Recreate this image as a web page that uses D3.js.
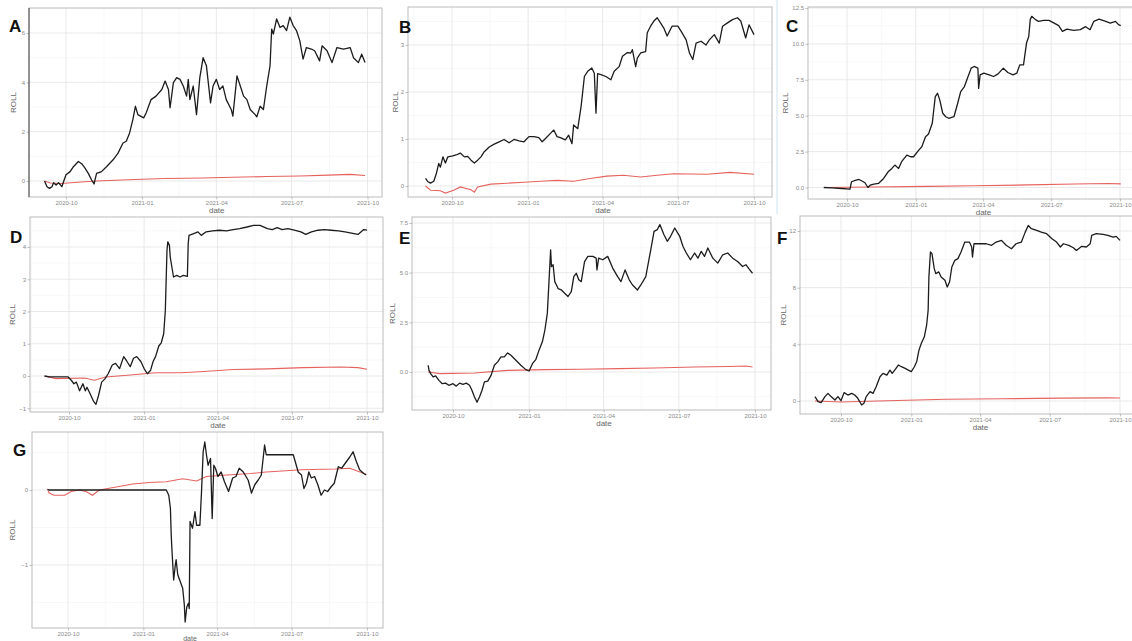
<!DOCTYPE html>
<html>
<head>
<meta charset="utf-8">
<script src="https://cdn.jsdelivr.net/npm/d3@7"></script>
<style>
body { margin: 0; background: #fff; }
svg { display: block; font-family: "Liberation Sans", Arial, sans-serif; }
.axis .domain { display: none; }
.axis .tick text { fill: #8a8a8a; font-size: 6px; }
.axis .tick line { stroke: #9a9a9a; stroke-width: 0.6; }
.axisTitle { fill: #666; font-size: 8px; }
.letter { font-weight: bold; font-size: 17px; fill: #111; }
</style>
</head>
<body>
<div id="vis"></div>
<script>
var parseDate = d3.timeParse('%Y-%m-%d');

var xTickDates  = ['2020-10-01', '2021-01-01', '2021-04-01', '2021-07-01', '2021-10-01'];
var xTickLabels = ['2020-10', '2021-01', '2021-04', '2021-07', '2021-10'];

var panelLetters = ['A', 'B', 'C', 'D', 'E', 'F', 'G'];
var yTitle = 'ROLL';
var xTitle = 'date';

// y tick values of each panel
var aTicks = [0, 2, 4, 6];
var bTicks = [0, 1, 2, 3];
var cTicks = [0, 2.5, 5, 7.5, 10, 12.5];
var dTicks = [-1, 0, 1, 2, 3, 4];
var eTicks = [0, 2.5, 5, 7.5];
var fTicks = [0, 4, 8, 12];
var gTicks = [-1, 0];

// black line (ROLL of the strategy)
var aRoll = [
  ['2020-09-05',0.00],['2020-09-08',-0.23],['2020-09-11',-0.30],['2020-09-14',-0.23],['2020-09-16',-0.07],
  ['2020-09-19',-0.16],['2020-09-22',-0.07],['2020-09-26',-0.23],['2020-09-28',-0.03],['2020-10-01',0.25],
  ['2020-10-06',0.38],['2020-10-10',0.58],['2020-10-16',0.79],['2020-10-20',0.70],['2020-10-24',0.52],
  ['2020-10-28',0.31],['2020-11-01',0.04],['2020-11-04',-0.12],['2020-11-07',0.31],['2020-11-13',0.38],
  ['2020-11-19',0.58],['2020-11-27',0.86],['2020-12-03',1.13],['2020-12-09',1.54],['2020-12-13',1.61],
  ['2020-12-17',1.95],['2020-12-21',2.50],['2020-12-24',3.03],['2020-12-27',2.69],['2021-01-03',2.56],
  ['2021-01-06',2.76],['2021-01-12',3.30],['2021-01-18',3.44],['2021-01-25',3.71],['2021-01-29',4.05],
  ['2021-02-02',3.71],['2021-02-04',2.97],['2021-02-08',3.99],['2021-02-12',4.19],['2021-02-16',4.12],
  ['2021-02-20',3.85],['2021-02-24',3.44],['2021-02-26',4.12],['2021-02-28',3.30],['2021-03-04',3.85],
  ['2021-03-08',2.69],['2021-03-12',4.19],['2021-03-16',5.00],['2021-03-20',4.67],['2021-03-25',3.17],
  ['2021-03-28',3.85],['2021-04-01',4.12],['2021-04-05',3.71],['2021-04-09',3.85],['2021-04-13',3.30],
  ['2021-04-19',2.90],['2021-04-21',2.63],['2021-04-26',4.26],['2021-04-30',3.85],['2021-05-04',3.44],
  ['2021-05-08',3.30],['2021-05-12',2.90],['2021-05-18',2.69],['2021-05-20',2.60],['2021-05-24',3.03],
  ['2021-05-28',2.90],['2021-06-01',3.85],['2021-06-05',4.67],['2021-06-07',6.16],['2021-06-09',5.96],
  ['2021-06-13',6.57],['2021-06-17',6.23],['2021-06-21',6.30],['2021-06-25',6.10],['2021-06-29',6.64],
  ['2021-07-03',6.30],['2021-07-07',6.10],['2021-07-11',5.69],['2021-07-15',4.94],['2021-07-19',5.41],
  ['2021-07-25',5.35],['2021-07-29',5.28],['2021-08-04',4.87],['2021-08-07',5.48],['2021-08-13',5.28],
  ['2021-08-19',4.80],['2021-08-25',5.41],['2021-09-02',5.35],['2021-09-10',5.41],['2021-09-14',5.00],
  ['2021-09-20',4.80],['2021-09-24',5.14],['2021-09-28',4.80]
];
var bRoll = [
  ['2020-08-30',0.16],['2020-09-02',0.09],['2020-09-05',0.06],['2020-09-09',0.10],['2020-09-12',0.26],
  ['2020-09-15',0.48],['2020-09-17',0.40],['2020-09-20',0.62],['2020-09-23',0.49],['2020-09-26',0.62],
  ['2020-10-02',0.64],['2020-10-06',0.66],['2020-10-11',0.70],['2020-10-16',0.62],['2020-10-20',0.63],
  ['2020-10-24',0.55],['2020-10-28',0.49],['2020-11-01',0.55],['2020-11-05',0.62],['2020-11-09',0.73],
  ['2020-11-15',0.83],['2020-11-21',0.89],['2020-11-27',0.94],['2020-12-03',0.99],['2020-12-09',0.92],
  ['2020-12-15',0.99],['2020-12-21',0.96],['2020-12-27',0.94],['2021-01-02',1.05],['2021-01-08',1.05],
  ['2021-01-14',1.03],['2021-01-18',0.94],['2021-01-22',1.01],['2021-01-28',1.12],['2021-02-01',1.19],
  ['2021-02-05',1.05],['2021-02-09',1.03],['2021-02-15',0.98],['2021-02-19',1.08],['2021-02-23',0.90],
  ['2021-02-25',1.30],['2021-03-02',1.22],['2021-03-06',1.69],['2021-03-10',2.33],['2021-03-14',2.44],
  ['2021-03-19',2.51],['2021-03-22',2.40],['2021-03-24',1.55],['2021-03-26',2.39],['2021-03-30',2.37],
  ['2021-04-05',2.33],['2021-04-11',2.26],['2021-04-15',2.44],['2021-04-21',2.54],['2021-04-25',2.76],
  ['2021-05-01',2.84],['2021-05-05',2.83],['2021-05-07',2.90],['2021-05-11',2.54],['2021-05-13',2.72],
  ['2021-05-17',2.83],['2021-05-23',2.86],['2021-05-25',3.26],['2021-05-29',3.40],['2021-06-02',3.51],
  ['2021-06-06',3.58],['2021-06-10',3.47],['2021-06-14',3.36],['2021-06-18',3.19],['2021-06-24',3.40],
  ['2021-07-01',3.40],['2021-07-05',3.29],['2021-07-11',3.11],['2021-07-15',2.83],['2021-07-19',2.69],
  ['2021-07-23',3.04],['2021-07-29',3.08],['2021-08-04',3.00],['2021-08-08',3.11],['2021-08-14',3.22],
  ['2021-08-20',3.04],['2021-08-24',3.40],['2021-08-30',3.47],['2021-09-05',3.54],['2021-09-11',3.58],
  ['2021-09-15',3.51],['2021-09-21',3.15],['2021-09-25',3.43],['2021-10-01',3.22]
];
var cRoll = [
  ['2020-08-31',0.00],['2020-09-11',-0.02],['2020-09-24',-0.07],['2020-10-01',-0.10],['2020-10-05',-0.12],
  ['2020-10-07',0.40],['2020-10-12',0.50],['2020-10-17',0.56],['2020-10-21',0.45],['2020-10-25',0.33],
  ['2020-10-29',0.00],['2020-11-01',0.16],['2020-11-06',0.23],['2020-11-12',0.28],['2020-11-19',0.63],
  ['2020-11-25',1.09],['2020-11-30',1.33],['2020-12-04',1.56],['2020-12-09',1.33],['2020-12-13',1.80],
  ['2020-12-20',2.26],['2020-12-25',2.14],['2020-12-29',2.14],['2021-01-05',2.60],['2021-01-09',2.84],
  ['2021-01-14',3.54],['2021-01-18',3.72],['2021-01-23',4.47],['2021-01-25',5.40],['2021-01-27',6.33],
  ['2021-01-30',6.56],['2021-02-02',6.10],['2021-02-06',5.17],['2021-02-10',4.93],['2021-02-14',4.82],
  ['2021-02-21',4.93],['2021-02-26',5.87],['2021-03-02',6.68],['2021-03-07',7.03],['2021-03-11',7.61],
  ['2021-03-16',8.31],['2021-03-20',8.43],['2021-03-25',8.31],['2021-03-26',6.90],['2021-03-28',7.84],
  ['2021-04-02',7.96],['2021-04-09',7.84],['2021-04-15',7.73],['2021-04-21',7.91],['2021-04-28',8.31],
  ['2021-05-04',8.01],['2021-05-11',7.84],['2021-05-16',7.96],['2021-05-20',8.54],['2021-05-25',8.54],
  ['2021-05-29',10.06],['2021-06-01',10.52],['2021-06-03',11.69],['2021-06-05',11.92],['2021-06-10',11.69],
  ['2021-06-14',11.57],['2021-06-21',11.64],['2021-06-28',11.64],['2021-07-05',11.45],['2021-07-11',11.27],
  ['2021-07-16',10.87],['2021-07-22',11.03],['2021-07-31',10.94],['2021-08-09',10.99],['2021-08-16',11.20],
  ['2021-08-22',10.99],['2021-08-27',11.57],['2021-09-03',11.73],['2021-09-12',11.57],['2021-09-18',11.45],
  ['2021-09-25',11.57],['2021-09-29',11.34],['2021-10-02',11.27]
];
var dRoll = [
  ['2020-09-01',0.00],['2020-09-07',-0.03],['2020-09-16',-0.03],['2020-09-24',-0.03],['2020-09-30',-0.03],
  ['2020-10-04',-0.14],['2020-10-07',-0.24],['2020-10-10',-0.19],['2020-10-14',-0.46],['2020-10-18',-0.24],
  ['2020-10-21',-0.46],['2020-10-23',-0.35],['2020-10-27',-0.56],['2020-10-31',-0.78],['2020-11-03',-0.88],
  ['2020-11-06',-0.62],['2020-11-10',-0.19],['2020-11-14',-0.09],['2020-11-18',0.07],['2020-11-23',0.34],
  ['2020-11-27',0.39],['2020-12-02',0.23],['2020-12-07',0.60],['2020-12-11',0.45],['2020-12-15',0.29],
  ['2020-12-19',0.55],['2020-12-23',0.60],['2020-12-28',0.45],['2021-01-01',0.23],['2021-01-05',0.07],
  ['2021-01-09',0.18],['2021-01-12',0.45],['2021-01-15',0.60],['2021-01-19',0.93],['2021-01-22',1.03],
  ['2021-01-25',1.31],['2021-01-27',2.04],['2021-01-29',3.89],['2021-01-30',4.16],['2021-02-01',4.05],
  ['2021-02-02',3.69],['2021-02-04',3.38],['2021-02-06',3.07],['2021-02-10',3.12],['2021-02-14',3.07],
  ['2021-02-18',3.12],['2021-02-23',3.09],['2021-02-24',4.10],['2021-02-25',4.36],['2021-03-02',4.41],
  ['2021-03-08',4.47],['2021-03-12',4.36],['2021-03-18',4.47],['2021-03-26',4.50],['2021-04-03',4.52],
  ['2021-04-12',4.50],['2021-04-20',4.54],['2021-04-28',4.57],['2021-05-07',4.62],['2021-05-15',4.67],
  ['2021-05-23',4.67],['2021-06-01',4.57],['2021-06-07',4.54],['2021-06-13',4.60],['2021-06-19',4.54],
  ['2021-06-26',4.57],['2021-07-04',4.52],['2021-07-12',4.47],['2021-07-18',4.39],['2021-07-25',4.47],
  ['2021-08-02',4.52],['2021-08-10',4.54],['2021-08-18',4.52],['2021-08-27',4.50],['2021-09-04',4.47],
  ['2021-09-12',4.43],['2021-09-20',4.39],['2021-09-27',4.54],['2021-10-01',4.52]
];
var eRoll = [
  ['2020-09-01',0.34],['2020-09-02',0.08],['2020-09-04',-0.08],['2020-09-07',-0.25],['2020-09-10',-0.20],
  ['2020-09-14',-0.42],['2020-09-18',-0.59],['2020-09-22',-0.56],['2020-09-26',-0.67],['2020-10-01',-0.59],
  ['2020-10-05',-0.71],['2020-10-09',-0.56],['2020-10-13',-0.62],['2020-10-17',-0.56],['2020-10-21',-0.67],
  ['2020-10-24',-0.93],['2020-10-27',-1.26],['2020-10-30',-1.52],['2020-11-02',-1.26],['2020-11-05',-0.93],
  ['2020-11-08',-0.50],['2020-11-12',-0.46],['2020-11-16',-0.17],['2020-11-20',0.34],['2020-11-24',0.51],
  ['2020-11-28',0.76],['2020-12-02',0.76],['2020-12-06',0.96],['2020-12-10',0.84],['2020-12-16',0.59],
  ['2020-12-22',0.34],['2020-12-28',0.12],['2021-01-01',0.05],['2021-01-05',0.42],['2021-01-09',0.62],
  ['2021-01-13',1.10],['2021-01-17',1.52],['2021-01-20',2.10],['2021-01-23',2.95],['2021-01-25',4.55],
  ['2021-01-27',6.15],['2021-01-28',5.30],['2021-01-30',5.40],['2021-02-01',4.55],['2021-02-03',4.38],
  ['2021-02-05',4.20],['2021-02-09',4.13],['2021-02-13',3.96],['2021-02-17',3.80],['2021-02-21',4.05],
  ['2021-02-24',4.80],['2021-02-27',4.97],['2021-03-02',4.64],['2021-03-05',4.55],['2021-03-09',5.56],
  ['2021-03-13',5.82],['2021-03-19',5.82],['2021-03-23',5.73],['2021-03-24',5.14],['2021-03-26',5.73],
  ['2021-03-31',5.65],['2021-04-06',5.82],['2021-04-12',5.23],['2021-04-18',4.80],['2021-04-22',4.55],
  ['2021-04-27',5.14],['2021-05-02',4.64],['2021-05-06',4.38],['2021-05-12',4.13],['2021-05-16',4.38],
  ['2021-05-22',4.80],['2021-05-28',6.15],['2021-06-01',7.08],['2021-06-05',7.17],['2021-06-08',7.42],
  ['2021-06-13',6.91],['2021-06-17',6.58],['2021-06-21',6.83],['2021-06-26',7.25],['2021-07-02',6.83],
  ['2021-07-06',6.32],['2021-07-10',5.99],['2021-07-15',5.65],['2021-07-20',5.99],['2021-07-24',5.73],
  ['2021-07-28',6.07],['2021-08-01',5.82],['2021-08-05',6.24],['2021-08-11',5.73],['2021-08-17',5.48],
  ['2021-08-23',5.90],['2021-08-29',5.99],['2021-09-04',5.73],['2021-09-10',5.56],['2021-09-16',5.31],
  ['2021-09-20',5.40],['2021-09-24',5.18],['2021-09-28',4.97]
];
var fRoll = [
  ['2020-08-28',0.31],['2020-09-01',-0.05],['2020-09-05',-0.12],['2020-09-10',0.31],['2020-09-14',0.54],
  ['2020-09-18',0.31],['2020-09-23',0.07],['2020-09-27',0.31],['2020-10-01',0.02],['2020-10-05',0.59],
  ['2020-10-10',0.42],['2020-10-15',0.54],['2020-10-19',0.42],['2020-10-23',0.19],['2020-10-28',-0.28],
  ['2020-10-31',-0.16],['2020-11-03',0.31],['2020-11-08',0.66],['2020-11-12',0.54],['2020-11-16',1.01],
  ['2020-11-21',1.71],['2020-11-25',1.95],['2020-11-30',1.83],['2020-12-04',2.18],['2020-12-07',1.95],
  ['2020-12-11',2.23],['2020-12-15',2.54],['2020-12-19',2.42],['2020-12-24',2.30],['2020-12-28',2.18],
  ['2021-01-01',2.07],['2021-01-05',2.42],['2021-01-08',2.77],['2021-01-11',3.59],['2021-01-14',4.06],
  ['2021-01-18',4.53],['2021-01-21',5.35],['2021-01-23',6.41],['2021-01-24',8.76],['2021-01-26',10.52],
  ['2021-01-28',10.40],['2021-01-31',9.34],['2021-02-02',8.99],['2021-02-06',9.11],['2021-02-09',8.76],
  ['2021-02-14',8.52],['2021-02-17',8.05],['2021-02-20',8.40],['2021-02-23',9.46],['2021-02-27',9.93],
  ['2021-03-03',10.05],['2021-03-07',10.52],['2021-03-12',11.22],['2021-03-18',11.22],['2021-03-21',10.87],
  ['2021-03-22',10.16],['2021-03-24',11.10],['2021-03-31',11.10],['2021-04-09',11.10],['2021-04-16',10.99],
  ['2021-04-22',11.22],['2021-04-29',11.34],['2021-05-05',10.99],['2021-05-12',10.75],['2021-05-18',11.10],
  ['2021-05-25',11.22],['2021-05-30',11.92],['2021-06-03',12.39],['2021-06-07',12.16],['2021-06-14',12.04],
  ['2021-06-20',11.92],['2021-06-27',11.81],['2021-07-04',11.46],['2021-07-10',11.22],['2021-07-15',10.87],
  ['2021-07-19',11.10],['2021-07-26',10.99],['2021-08-01',10.82],['2021-08-05',10.63],['2021-08-12',10.92],
  ['2021-08-18',10.87],['2021-08-23',11.10],['2021-08-25',11.69],['2021-08-31',11.81],['2021-09-09',11.76],
  ['2021-09-15',11.69],['2021-09-22',11.57],['2021-09-26',11.62],['2021-10-01',11.34]
];
var gRoll = [
  ['2020-09-06',0.01],['2020-09-08',0.00],['2020-09-29',0.00],['2020-11-08',0.00],['2020-12-19',0.00],
  ['2021-01-29',0.00],['2021-02-01',-0.07],['2021-02-03',-0.24],['2021-02-04',-0.60],['2021-02-05',-0.82],
  ['2021-02-07',-1.20],['2021-02-09',-1.00],['2021-02-10',-0.93],['2021-02-12',-1.13],['2021-02-15',-1.22],
  ['2021-02-18',-1.31],['2021-02-20',-1.53],['2021-02-21',-1.76],['2021-02-23',-1.56],['2021-02-25',-1.51],
  ['2021-02-26',-1.58],['2021-02-27',-0.42],['2021-03-02',-0.51],['2021-03-05',-0.29],['2021-03-07',-0.47],
  ['2021-03-11',-0.47],['2021-03-13',-0.02],['2021-03-15',0.51],['2021-03-17',0.64],['2021-03-19',0.47],
  ['2021-03-21',0.33],['2021-03-24',0.42],['2021-03-26',-0.38],['2021-03-28',0.33],['2021-03-30',0.29],
  ['2021-04-02',0.18],['2021-04-06',0.24],['2021-04-10',0.11],['2021-04-15',-0.02],['2021-04-20',0.16],
  ['2021-04-24',0.18],['2021-04-28',0.29],['2021-05-03',0.24],['2021-05-09',0.13],['2021-05-13',-0.04],
  ['2021-05-17',0.07],['2021-05-21',0.13],['2021-05-25',0.20],['2021-05-29',0.60],['2021-05-31',0.47],
  ['2021-07-03',0.47],['2021-07-09',0.24],['2021-07-13',0.20],['2021-07-16',0.02],['2021-07-19',0.09],
  ['2021-07-22',0.24],['2021-07-25',0.16],['2021-07-29',0.18],['2021-08-02',0.07],['2021-08-06',-0.07],
  ['2021-08-10',0.00],['2021-08-14',-0.02],['2021-08-18',0.04],['2021-08-22',0.09],['2021-08-27',0.31],
  ['2021-08-31',0.29],['2021-09-06',0.38],['2021-09-10',0.44],['2021-09-14',0.51],['2021-09-18',0.38],
  ['2021-09-22',0.27],['2021-09-27',0.22],['2021-09-30',0.20]
];

// red line (benchmark)
var aBench = [
  ['2020-09-05',0.00],['2020-09-12',-0.08],['2020-09-25',-0.10],['2020-10-15',-0.05],['2020-11-07',0.00],
  ['2020-12-15',0.05],['2021-01-29',0.10],['2021-03-15',0.12],['2021-04-21',0.15],['2021-06-01',0.18],
  ['2021-07-11',0.20],['2021-08-15',0.24],['2021-09-10',0.27],['2021-09-28',0.22]
];
var bBench = [
  ['2020-08-30',0.00],['2020-09-05',-0.09],['2020-09-17',-0.10],['2020-09-23',-0.15],['2020-10-03',-0.09],
  ['2020-10-11',-0.02],['2020-10-24',-0.08],['2020-10-28',-0.13],['2020-11-01',-0.02],['2020-11-17',0.04],
  ['2020-12-07',0.06],['2020-12-27',0.08],['2021-01-16',0.10],['2021-02-05',0.12],['2021-02-25',0.10],
  ['2021-03-17',0.16],['2021-04-06',0.21],['2021-04-26',0.23],['2021-05-17',0.19],['2021-06-06',0.23],
  ['2021-06-26',0.26],['2021-08-05',0.25],['2021-09-02',0.29],['2021-10-01',0.25]
];
var cBench = [
  ['2020-08-31',0.00],['2020-11-01',0.03],['2021-01-15',0.08],['2021-03-20',0.12],['2021-06-01',0.18],
  ['2021-08-01',0.24],['2021-09-15',0.28],['2021-10-02',0.25]
];
var dBench = [
  ['2020-09-01',0.00],['2020-09-15',-0.08],['2020-10-20',-0.06],['2020-11-01',-0.13],['2020-11-15',-0.03],
  ['2020-12-15',0.03],['2021-01-15',0.10],['2021-02-15',0.10],['2021-03-15',0.14],['2021-04-20',0.20],
  ['2021-06-01',0.22],['2021-07-15',0.26],['2021-08-30',0.28],['2021-09-20',0.26],['2021-10-01',0.21]
];
var eBench = [
  ['2020-09-01',0.00],['2020-09-15',-0.08],['2020-10-27',-0.05],['2020-12-06',0.08],['2021-01-20',0.12],
  ['2021-03-05',0.14],['2021-04-20',0.17],['2021-06-01',0.20],['2021-07-20',0.25],['2021-08-30',0.28],
  ['2021-09-20',0.30],['2021-09-28',0.25]
];
var fBench = [
  ['2020-08-28',0.00],['2020-10-01',-0.07],['2020-12-01',0.02],['2021-02-15',0.12],['2021-05-01',0.16],
  ['2021-07-15',0.20],['2021-09-15',0.22],['2021-10-01',0.21]
];
var gBench = [
  ['2020-09-06',0.01],['2020-09-08',-0.04],['2020-09-14',-0.07],['2020-09-27',-0.07],['2020-10-05',-0.02],
  ['2020-10-15',0.00],['2020-10-23',-0.02],['2020-10-31',-0.07],['2020-11-08',0.00],['2020-11-29',0.04],
  ['2020-12-19',0.08],['2021-01-08',0.10],['2021-01-29',0.11],['2021-02-18',0.15],['2021-03-07',0.12],
  ['2021-03-19',0.18],['2021-04-13',0.20],['2021-05-12',0.22],['2021-05-31',0.24],['2021-07-13',0.27],
  ['2021-08-23',0.28],['2021-09-10',0.29],['2021-09-30',0.21]
];

var rolls   = [aRoll, bRoll, cRoll, dRoll, eRoll, fRoll, gRoll];
var benches = [aBench, bBench, cBench, dBench, eBench, fBench, gBench];
var yTicks  = [aTicks, bTicks, cTicks, dTicks, eTicks, fTicks, gTicks];

// layout of each pasted sub-plot: panel box, where 2020-10 / 2021-10 fall, two y reference points,
// where the panel letter, the ROLL title and the date title sit
var layout = [
  {box: [29, 8, 382, 197],     xAt: [66, 367.5], yAt: [[0, 181], [6, 33]],     fmt: 'd',   rollX: 13,  letter: [9, 32],    date: [null, 213, 8]},
  {box: [408, 7, 772, 197],    xAt: [452, 754],  yAt: [[0, 186], [3, 45]],     fmt: 'd',   rollX: 395, letter: [399, 33],  date: [null, 213, 8]},
  {box: [808, 7, 1136, 199],   xAt: [847, 1120], yAt: [[0, 187.5], [12.5, 8]], fmt: '.1f', rollX: 785, letter: [786, 32],  date: [null, 215, 8]},
  {box: [30, 217, 383, 412],   xAt: [69, 367],   yAt: [[0, 376], [4, 247]],    fmt: 'd',   rollX: 12,  letter: [10, 243],  date: [null, 428, 8]},
  {box: [412, 217, 771, 410],  xAt: [453, 755],  yAt: [[0, 372], [7.5, 223]],  fmt: '.1f', rollX: 392, letter: [399, 244], date: [null, 426, 8]},
  {box: [800, 216, 1135, 414], xAt: [841, 1120], yAt: [[0, 401], [12, 231]],   fmt: 'd',   rollX: 783, letter: [777, 244], date: [null, 430, 8]},
  {box: [32, 432, 383, 628],   xAt: [68, 367],   yAt: [[0, 490], [-1, 565]],   fmt: 'd',   rollX: 12,  letter: [13, 456],  date: [190, 641, 7]}
];

var width = 1132, height = 641;

var svg = d3.select('#vis')
  .append('svg')
  .attr('width', width)
  .attr('height', height)
  .style('background', '#fff');

// thin pale-blue seam between two of the pasted screenshots
svg.append('line')
  .attr('x1', 777).attr('x2', 777).attr('y1', 0).attr('y2', 214)
  .attr('stroke', '#cfe3f2').attr('stroke-width', 1);

var xMajor = xTickDates.map(parseDate);
var xMinor = [];
xMinor.push(new Date(xMajor[0] - (xMajor[1] - xMajor[0]) / 2));
for (var k = 0; k < xMajor.length - 1; k++) {
  xMinor.push(new Date((+xMajor[k] + +xMajor[k + 1]) / 2));
}
xMinor.push(new Date(+xMajor[xMajor.length - 1] + (xMajor[1] - xMajor[0]) / 2));

layout.forEach(function(p, i) {
  var l = p.box[0], t = p.box[1], r = p.box[2], b = p.box[3];

  var xScale = d3.scaleTime()
    .domain([xMajor[0], xMajor[xMajor.length - 1]])
    .range(p.xAt);

  var yScale = d3.scaleLinear()
    .domain([p.yAt[0][0], p.yAt[1][0]])
    .range([p.yAt[0][1], p.yAt[1][1]]);

  var g = svg.append('g').attr('class', 'panel');

  g.append('clipPath')
    .attr('id', 'clip' + i)
    .append('rect')
    .attr('x', l).attr('y', t).attr('width', r - l).attr('height', b - t);

  var grid = g.append('g').attr('clip-path', 'url(#clip' + i + ')');

  // minor grid
  var ticks = yTicks[i];
  var step = ticks[1] - ticks[0];
  var yMinor = [ticks[0] - step / 2];
  ticks.forEach(function(v) { yMinor.push(v + step / 2); });

  grid.selectAll('.yminor').data(yMinor).enter().append('line')
    .attr('x1', l).attr('x2', r)
    .attr('y1', function(d) { return yScale(d); })
    .attr('y2', function(d) { return yScale(d); })
    .attr('stroke', '#f3f3f3').attr('stroke-width', 0.6);

  grid.selectAll('.xminor').data(xMinor).enter().append('line')
    .attr('y1', t).attr('y2', b)
    .attr('x1', function(d) { return xScale(d); })
    .attr('x2', function(d) { return xScale(d); })
    .attr('stroke', '#f3f3f3').attr('stroke-width', 0.6);

  // major grid
  grid.selectAll('.ymajor').data(ticks).enter().append('line')
    .attr('x1', l).attr('x2', r)
    .attr('y1', function(d) { return yScale(d); })
    .attr('y2', function(d) { return yScale(d); })
    .attr('stroke', '#e7e7e7').attr('stroke-width', 0.9);

  grid.selectAll('.xmajor').data(xMajor).enter().append('line')
    .attr('y1', t).attr('y2', b)
    .attr('x1', function(d) { return xScale(d); })
    .attr('x2', function(d) { return xScale(d); })
    .attr('stroke', '#e7e7e7').attr('stroke-width', 0.9);

  var line = d3.line()
    .x(function(d) { return xScale(parseDate(d[0])); })
    .y(function(d) { return yScale(d[1]); });

  grid.append('path')
    .attr('d', line(benches[i]))
    .attr('fill', 'none')
    .attr('stroke', '#e2514d')
    .attr('stroke-opacity', 0.9)
    .attr('stroke-width', 1.1);

  grid.append('path')
    .attr('d', line(rolls[i]))
    .attr('fill', 'none')
    .attr('stroke', '#1c1c1c')
    .attr('stroke-width', 1.3)
    .attr('stroke-linejoin', 'round');

  // panel border
  g.append('rect')
    .attr('x', l).attr('y', t).attr('width', r - l).attr('height', b - t)
    .attr('fill', 'none')
    .attr('stroke', '#b4b4b4')
    .attr('stroke-width', 0.9);

  // axes
  var yAxis = d3.axisLeft(yScale)
    .tickValues(ticks)
    .tickSize(2.5)
    .tickPadding(1.5)
    .tickFormat(d3.format(p.fmt));
  g.append('g')
    .attr('class', 'y axis')
    .attr('transform', 'translate(' + l + ',0)')
    .call(yAxis);

  var xAxis = d3.axisBottom(xScale)
    .tickValues(xMajor)
    .tickSize(2.5)
    .tickPadding(1.5)
    .tickFormat(function(d, j) { return xTickLabels[j]; });
  g.append('g')
    .attr('class', 'x axis')
    .attr('transform', 'translate(0,' + b + ')')
    .call(xAxis);

  // titles
  g.append('text')
    .attr('class', 'axisTitle')
    .attr('x', p.date[0] === null ? (p.xAt[0] + p.xAt[1]) / 2 : p.date[0])
    .attr('y', p.date[1])
    .attr('text-anchor', 'middle')
    .style('font-size', p.date[2] + 'px')
    .text(xTitle);

  g.append('text')
    .attr('class', 'axisTitle')
    .attr('transform', 'translate(' + (p.rollX + 3) + ',' + ((t + b) / 2) + ') rotate(-90)')
    .attr('text-anchor', 'middle')
    .text(yTitle);

  g.append('text')
    .attr('class', 'letter')
    .attr('x', p.letter[0])
    .attr('y', p.letter[1])
    .text(panelLetters[i]);
});

// first panel has a darker left edge in the reference
svg.append('line')
  .attr('x1', 29).attr('x2', 29).attr('y1', 8).attr('y2', 197)
  .attr('stroke', '#444').attr('stroke-width', 1);
</script>
</body>
</html>
